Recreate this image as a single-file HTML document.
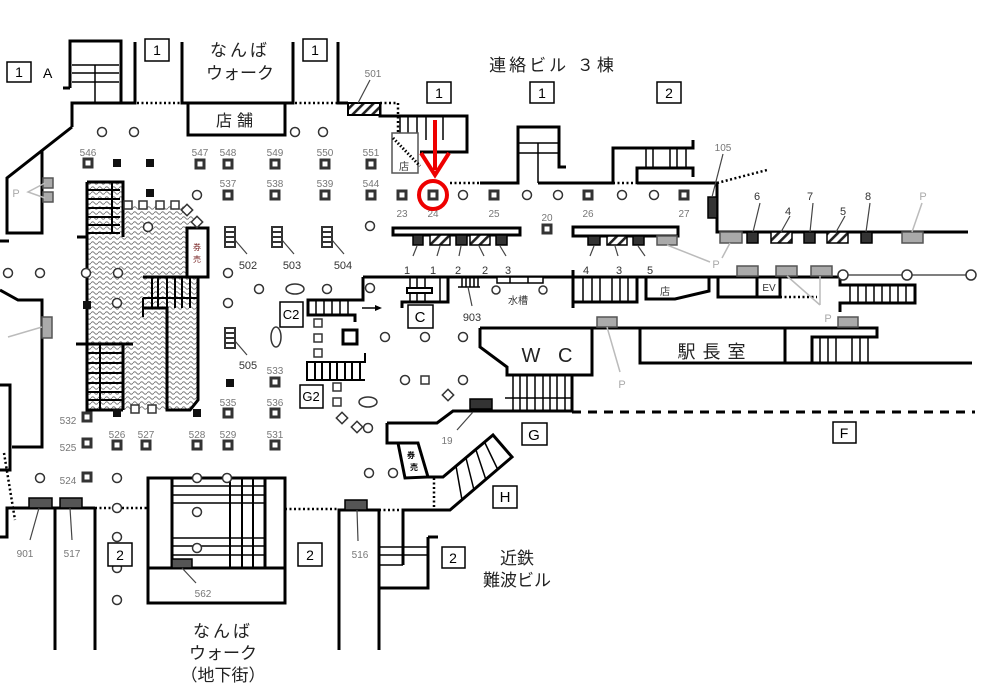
<!DOCTYPE html>
<html><head><meta charset="utf-8"><style>html,body{margin:0;padding:0;background:#fff}svg{display:block}</style></head><body>
<svg width="983" height="694" viewBox="0 0 983 694" xmlns="http://www.w3.org/2000/svg" font-family="'Liberation Sans','Noto Sans CJK JP',sans-serif">
<defs>
<pattern id="zz" width="7" height="5" patternUnits="userSpaceOnUse">
<path d="M0,3 Q1.75,0.5 3.5,3 T7,3" fill="none" stroke="#777" stroke-width="0.9"/>
</pattern>
<pattern id="hatch" width="7" height="7" patternUnits="userSpaceOnUse" patternTransform="rotate(45)">
<rect width="7" height="7" fill="#fff"/><rect width="2.6" height="7" fill="#222"/>
</pattern>
</defs>
<rect width="983" height="694" fill="#fff"/>

<!-- zigzag area -->
<path d="M87,182 L123,182 L123,205 L182,205 L192,214 L197,225 L197,400 L190,410 L87,410Z" fill="url(#zz)"/>

<!-- thick walls -->
<g fill="none" stroke="#000" stroke-width="3">
<path d="M70,88 L70,41 L121,41 L121,103"/>
<path d="M63,88 L70,88"/>
<path d="M72,127 L72,103 L135,103 L135,42"/>
<path d="M72,127 L7,178 L7,233 L42,233 L42,151"/>
<path d="M0,241 L9,241"/>
<path d="M182,42 L182,103 L293,103 L293,42"/>
<rect x="188" y="103" width="97" height="32"/>
<path d="M338,42 L338,103 L348,103"/>
<path d="M380,103 L380,116 L467,116 L467,152 L420,152"/>
<path d="M480,183 L518,183 L518,127 L559,127 L559,167 L566,167"/>
<path d="M538,183 L613,183 L613,148 L693,148 L693,140"/>
<path d="M637,183 L637,168 L693,168 L693,177"/>
<path d="M637,183 L717,183 L717,232 L968,232"/>
<path d="M363,277 L840,277"/>
<path d="M363,277 L363,300 L308,300 L308,315 L355,315 L355,322"/>
<path d="M840,277 L840,285 L915,285 L915,303 L840,303 L840,312"/>
<path d="M718,277 L718,297 L780,297 L780,277 M757,277 L757,297"/>
<path d="M709,277 L709,291 L675,299 L646,299 L646,277"/>
<path d="M573,270 L573,308 M573,302 L637,302 L637,277"/>
<path d="M448,277 L448,302 L402,302 L402,308"/>
<path d="M0,290 L18,300 L42,300 L42,447 L12,447"/>
<path d="M0,385 L10,385 L10,470 L0,470"/>
<path d="M480,328 L877,328 L877,337 L812,337 L812,363"/>
<path d="M480,328 L480,347 L507,367 L507,375 L592,375 L592,328"/>
<path d="M640,328 L640,363 L972,363 M785,328 L785,363"/>
<path d="M572,375 L572,412"/>
<path d="M387,423 L437,423 L453,411 L573,411"/>
<path d="M387,423 L387,443 L398,443"/>
<path d="M427,477 L443,477 L493,435 L512,457 L450,510 L403,510 L403,565"/>
<path d="M339,650 L339,510 L379,510 L379,650"/>
<path d="M428,537 L438,537 M428,537 L428,588 L379,588"/>
<rect x="148" y="478" width="137" height="125"/>
<path d="M148,568 L285,568 M172,478 L172,568 M265,478 L265,568"/>
<path d="M0,537 L7,537 L7,508 L95,508 M55,508 L55,650 M95,508 L95,650"/>
<path d="M87,182 L87,410 L123,410 M87,182 L123,182 L123,237 M77,237 L87,237"/>
<path d="M143,277 L198,277 L198,400 L190,410 L167,410 L167,308 L143,308"/>
<path d="M76,344 L133,344 M123,344 L123,410"/>
<rect x="187" y="228" width="21" height="49" fill="#fff"/>
<polygon points="398,443 418,443 428,477 405,478" fill="#fff"/>
<rect x="393" y="228" width="127" height="7" fill="#fff"/>
<rect x="573" y="227" width="105" height="9" fill="#fff"/>
<rect x="343" y="330" width="14" height="14" fill="#fff"/>
</g>

<!-- thinner stair lines -->
<g fill="none" stroke="#000" stroke-width="1.5">
<path d="M72,65 L119,65 M72,73 L119,73 M72,82 L119,82 M95,65 L95,103"/>
<path d="M400,116 L400,133 M408,116 L408,133 M417,116 L417,133 M426,116 L426,140 M443,116 L443,140"/>
<path d="M518,143 L559,143 M518,153 L559,153 M538,143 L538,183"/>
<path d="M646,148 L646,168 M653,148 L653,168 M670,148 L670,168 M677,148 L677,168 M686,148 L686,168"/>
<path d="M850,285 V303 M858,285 V303 M866,285 V303 M874,285 V303 M882,285 V303 M890,285 V303 M898,285 V303 M906,285 V303"/>
<path d="M583,277 V302 M592,277 V302 M600,277 V302 M612,277 V302 M620,277 V302 M628,277 V302"/>
<path d="M410,277 V302 M417,277 V302 M425,277 V302 M440,277 V302"/>
<path d="M462,277 V287 M466,277 V287 M470,277 V287 M474,277 V287 M478,277 V287 M458,287 H480"/>
<path d="M316,300 V315 M324,300 V315 M332,300 V315 M340,300 V315 M348,300 V315"/>
<path d="M365,353 L365,362 L307,362 L307,380 L365,380 M315,362 V380 M322,362 V380 M330,362 V380 M337,362 V380 M345,362 V380 M352,362 V380 M360,362 V380" stroke-width="2"/>
<path d="M820,337 V363 M828,337 V363 M836,337 V363 M852,337 V363 M860,337 V363 M868,337 V363"/>
<path d="M513,375 V411 M520,375 V411 M527,375 V411 M535,375 V411 M543,375 V411 M550,375 V411 M557,375 V411 M565,375 V411 M505,398 H572"/>
<path d="M456,466 L462,500 M466,458 L474,490 M476,450 L486,480 M485,443 L498,470"/>
<path d="M379,547 H428 M379,555 H428 M379,565 H403"/>
<path d="M172,486 H265 M172,495 H265 M172,503 H265 M172,538 H265 M172,546 H265 M172,555 H265"/>
<path d="M230,478 V568 M242,478 V568 M253,478 V568" stroke-width="2"/>
<path d="M87,190 H120 M87,199 H120 M87,208 H120 M87,217 H120 M87,225 H120 M87,233 H120 M112,182 V233" stroke-width="2"/>
<path d="M143,298 H198 M152,277 V308 M158,277 V308 M167,277 V308 M175,277 V308 M182,277 V308 M190,277 V308 M143,298 V317" stroke-width="2"/>
<path d="M87,353 H122 M87,363 H122 M87,373 H122 M87,383 H122 M87,392 H122 M87,400 H122 M100,344 V410" stroke-width="2"/>
<rect x="407" y="288" width="25" height="5" fill="#fff" stroke-width="2"/>
<rect x="497" y="277" width="46" height="6" fill="#fff"/>
<path d="M510,277 V283 M528,277 V283"/>
<rect x="392" y="133" width="26" height="40" stroke="#555"/>
<path d="M393,138 L420,166" stroke-dasharray="1.5 2" stroke-width="3"/>
</g>

<!-- dotted lines -->
<g fill="none" stroke="#000" stroke-width="2.5" stroke-dasharray="2 2.5">
<path d="M137,103 L182,103"/>
<path d="M295,103 L338,103"/>
<path d="M380,103 L398,103 L398,133"/>
<path d="M450,183 L480,183"/>
<path d="M613,183 L637,183"/>
<path d="M717,183 L767,170"/>
<path d="M780,297 L817,297"/>
<path d="M4,453 L15,520"/>
<path d="M95,508 L148,508"/>
<path d="M285,509 L339,509"/>
<path d="M379,510 L403,510"/>
<path d="M434,478 L434,508"/>
</g>
<path d="M572,412 L975,412" stroke="#000" stroke-width="3" stroke-dasharray="9 7"/>

<!-- hatched / dark / gray boxes -->
<g stroke="#000" stroke-width="1.5">
<rect x="348" y="103" width="32" height="12" fill="url(#hatch)" stroke-width="2"/>
<rect x="413" y="235" width="10" height="10" fill="#333"/>
<rect x="430" y="235" width="20" height="10" fill="url(#hatch)"/>
<rect x="456" y="235" width="11" height="10" fill="#333"/>
<rect x="470" y="235" width="20" height="10" fill="url(#hatch)"/>
<rect x="496" y="235" width="11" height="10" fill="#333"/>
<rect x="588" y="236" width="12" height="9" fill="#333"/>
<rect x="607" y="236" width="20" height="9" fill="url(#hatch)"/>
<rect x="633" y="236" width="11" height="9" fill="#333"/>
<rect x="657" y="236" width="20" height="9" fill="#aaa" stroke="#555"/>
<rect x="720" y="232" width="22" height="11" fill="#aaa" stroke="#555"/>
<rect x="747" y="232" width="11" height="11" fill="#333"/>
<rect x="771" y="232" width="21" height="11" fill="url(#hatch)"/>
<rect x="804" y="232" width="11" height="11" fill="#333"/>
<rect x="827" y="232" width="21" height="11" fill="url(#hatch)"/>
<rect x="861" y="232" width="11" height="11" fill="#333"/>
<rect x="902" y="232" width="21" height="11" fill="#aaa" stroke="#555"/>
<rect x="737" y="266" width="21" height="10" fill="#aaa" stroke="#555"/>
<rect x="776" y="266" width="21" height="10" fill="#aaa" stroke="#555"/>
<rect x="811" y="266" width="21" height="10" fill="#aaa" stroke="#555"/>
<rect x="838" y="317" width="20" height="10" fill="#aaa" stroke="#555"/>
<rect x="597" y="317" width="20" height="10" fill="#aaa" stroke="#555"/>
<rect x="42" y="317" width="10" height="21" fill="#aaa" stroke="#555"/>
<rect x="43" y="178" width="10" height="10" fill="#aaa" stroke="#555"/>
<rect x="43" y="192" width="10" height="10" fill="#aaa" stroke="#555"/>
<rect x="708" y="197" width="9" height="21" fill="#333"/>
<rect x="470" y="399" width="22" height="10" fill="#333"/>
<rect x="345" y="500" width="22" height="10" fill="#555"/>
<rect x="29" y="498" width="23" height="10" fill="#555"/>
<rect x="60" y="498" width="22" height="10" fill="#555"/>
<rect x="172" y="559" width="20" height="9" fill="#555"/>
</g>

<!-- leader lines -->
<g stroke="#444" stroke-width="1.2" fill="none">
<path d="M370,80 L358,103"/>
<path d="M723,154 L712,197"/>
<path d="M760,203 L753,232 M790,216 L781,232 M813,203 L810,232 M845,216 L836,232 M870,203 L866,232"/>
<path d="M417,246 L413,256 M440,246 L437,256 M461,246 L459,256 M479,246 L484,256 M500,246 L506,256"/>
<path d="M594,246 L590,256 M615,246 L618,256 M638,246 L645,256"/>
<path d="M468,287 L472,306"/>
<path d="M473,412 L457,430"/>
<path d="M357,510 L358,541"/>
<path d="M39,508 L30,540 M70,508 L72,540"/>
<path d="M182,568 L196,583"/>
<path d="M235,240 L247,254 M282,240 L294,254 M332,240 L344,254 M235,341 L247,355"/>
</g>
<g stroke="#bbb" stroke-width="1.5" fill="none">
<path d="M922,203 L912,232"/>
<path d="M667,245 L710,262 M722,258 L730,243"/>
<path d="M787,276 L820,305 M820,276 L820,305"/>
<path d="M607,327 L620,372"/>
<path d="M8,337 L42,327"/>
<path d="M45,183 L28,192 L45,198"/>
</g>

<!-- 5xx stair symbols -->
<g fill="#fff" stroke="#333" stroke-width="2">
<rect x="225" y="227" width="10" height="20"/><path d="M225,232 H235 M225,237 H235 M225,242 H235"/>
<rect x="272" y="227" width="10" height="20"/><path d="M272,232 H282 M272,237 H282 M272,242 H282"/>
<rect x="322" y="227" width="10" height="20"/><path d="M322,232 H332 M322,237 H332 M322,242 H332"/>
<rect x="225" y="328" width="10" height="20"/><path d="M225,333 H235 M225,338 H235 M225,343 H235"/>
</g>

<!-- square columns -->
<g fill="#fff" stroke="#333" stroke-width="3">
<rect x="84" y="159" width="8" height="8"/><rect x="196" y="160" width="8" height="8"/><rect x="224" y="160" width="8" height="8"/><rect x="271" y="160" width="8" height="8"/><rect x="321" y="160" width="8" height="8"/><rect x="367" y="160" width="8" height="8"/>
<rect x="224" y="191" width="8" height="8"/><rect x="271" y="191" width="8" height="8"/><rect x="321" y="191" width="8" height="8"/><rect x="367" y="191" width="8" height="8"/><rect x="398" y="191" width="8" height="8"/><rect x="429" y="191" width="8" height="8"/><rect x="490" y="191" width="8" height="8"/><rect x="584" y="191" width="8" height="8"/><rect x="680" y="191" width="8" height="8"/><rect x="543" y="225" width="8" height="8"/>
<rect x="271" y="378" width="8" height="8"/><rect x="224" y="409" width="8" height="8"/><rect x="271" y="409" width="8" height="8"/>
<rect x="83" y="413" width="8" height="8"/><rect x="83" y="439" width="8" height="8"/><rect x="83" y="473" width="8" height="8"/>
<rect x="113" y="441" width="8" height="8"/><rect x="142" y="441" width="8" height="8"/><rect x="193" y="441" width="8" height="8"/><rect x="224" y="441" width="8" height="8"/><rect x="271" y="441" width="8" height="8"/>
</g>

<!-- small squares/diamonds -->
<g fill="#fff" stroke="#333" stroke-width="1.5">
<rect x="124" y="201" width="8" height="8"/><rect x="139" y="201" width="8" height="8"/><rect x="156" y="201" width="8" height="8"/><rect x="171" y="201" width="8" height="8"/>
<rect x="183" y="206" width="8" height="8" transform="rotate(45 187 210)"/><rect x="193" y="218" width="8" height="8" transform="rotate(45 197 222)"/>
<rect x="131" y="405" width="8" height="8"/><rect x="148" y="405" width="8" height="8"/>
<rect x="314" y="319" width="8" height="8"/><rect x="314" y="334" width="8" height="8"/><rect x="314" y="349" width="8" height="8"/>
<rect x="333" y="383" width="8" height="8"/><rect x="333" y="398" width="8" height="8"/>
<rect x="421" y="376" width="8" height="8"/>
<rect x="444" y="391" width="8" height="8" transform="rotate(45 448 395)"/>
<rect x="338" y="414" width="8" height="8" transform="rotate(45 342 418)"/>
<rect x="353" y="423" width="8" height="8" transform="rotate(45 357 427)"/>
</g>

<!-- black squares -->
<g fill="#111">
<rect x="113" y="159" width="8" height="8"/><rect x="146" y="159" width="8" height="8"/><rect x="146" y="189" width="8" height="8"/>
<rect x="83" y="301" width="8" height="8"/><rect x="113" y="409" width="8" height="8"/><rect x="193" y="409" width="8" height="8"/><rect x="226" y="379" width="8" height="8"/>
</g>

<!-- circles -->
<g fill="#fff" stroke="#333" stroke-width="1.5">
<circle cx="102" cy="132" r="4.5"/><circle cx="134" cy="132" r="4.5"/><circle cx="295" cy="132" r="4.5"/><circle cx="323" cy="132" r="4.5"/>
<circle cx="197" cy="195" r="4.5"/><circle cx="148" cy="227" r="4.5"/>
<circle cx="8" cy="273" r="4.5"/><circle cx="40" cy="273" r="4.5"/><circle cx="86" cy="273" r="4.5"/><circle cx="118" cy="273" r="4.5"/><circle cx="117" cy="303" r="4.5"/>
<circle cx="228" cy="273" r="4.5"/><circle cx="259" cy="289" r="4.5"/><circle cx="228" cy="303" r="4.5"/><circle cx="327" cy="289" r="4.5"/>
<circle cx="370" cy="226" r="4.5"/><circle cx="370" cy="288" r="4.5"/>
<circle cx="463" cy="195" r="4.5"/><circle cx="527" cy="195" r="4.5"/><circle cx="558" cy="195" r="4.5"/><circle cx="622" cy="195" r="4.5"/><circle cx="654" cy="195" r="4.5"/>
<circle cx="385" cy="337" r="4.5"/><circle cx="425" cy="337" r="4.5"/><circle cx="463" cy="337" r="4.5"/><circle cx="405" cy="380" r="4.5"/><circle cx="463" cy="380" r="4.5"/>
<circle cx="368" cy="428" r="4.5"/><circle cx="369" cy="473" r="4.5"/><circle cx="393" cy="473" r="4.5"/>
<circle cx="496" cy="290" r="4"/><circle cx="543" cy="290" r="4"/>
<circle cx="40" cy="478" r="4.5"/><circle cx="117" cy="478" r="4.5"/><circle cx="117" cy="508" r="4.5"/><circle cx="117" cy="537" r="4.5"/><circle cx="117" cy="568" r="4.5"/><circle cx="117" cy="600" r="4.5"/>
<circle cx="197" cy="478" r="4.5"/><circle cx="227" cy="478" r="4.5"/><circle cx="197" cy="512" r="4.5"/><circle cx="197" cy="548" r="4.5"/>
<ellipse cx="295" cy="289" rx="9" ry="5"/><ellipse cx="276" cy="337" rx="5" ry="10"/><ellipse cx="368" cy="402" rx="9" ry="5"/>
</g>
<g stroke="#333" stroke-width="1.2" fill="none">
<path d="M843,275 L971,275"/>
</g>
<g fill="#fff" stroke="#333" stroke-width="1.5">
<circle cx="843" cy="275" r="5"/><circle cx="907" cy="275" r="5"/><circle cx="971" cy="275" r="5"/>
</g>

<!-- arrow near C -->
<path d="M362,308 L378,308" stroke="#000" stroke-width="1.5"/>
<path d="M375,305 L382,308 L375,311Z" fill="#000"/>

<!-- labeled boxes -->
<g fill="#fff" stroke="#000" stroke-width="1.5">
<rect x="7" y="62" width="24" height="20"/>
<rect x="145" y="39" width="24" height="22"/>
<rect x="303" y="39" width="24" height="22"/>
<rect x="427" y="82" width="24" height="21"/>
<rect x="530" y="82" width="24" height="21"/>
<rect x="657" y="82" width="24" height="21"/>
<rect x="280" y="302" width="23" height="25"/>
<rect x="408" y="305" width="25" height="23"/>
<rect x="300" y="385" width="23" height="23"/>
<rect x="522" y="423" width="25" height="22"/>
<rect x="493" y="486" width="24" height="22"/>
<rect x="833" y="422" width="23" height="21"/>
<rect x="108" y="543" width="24" height="23"/>
<rect x="298" y="543" width="24" height="23"/>
<rect x="442" y="547" width="23" height="21"/>
</g>
<g font-size="14" text-anchor="middle" fill="#000">
<text x="19" y="77">1</text>
<text x="157" y="55">1</text>
<text x="315" y="55">1</text>
<text x="439" y="98">1</text>
<text x="542" y="98">1</text>
<text x="669" y="98">2</text>
<text x="291" y="319" font-size="13">C2</text>
<text x="420" y="322" font-size="15">C</text>
<text x="311" y="401" font-size="13">G2</text>
<text x="534" y="440" font-size="15">G</text>
<text x="505" y="502" font-size="15">H</text>
<text x="844" y="438">F</text>
<text x="120" y="560">2</text>
<text x="310" y="560">2</text>
<text x="453" y="563">2</text>
</g>
<text x="43" y="78" font-size="14">A</text>

<!-- number labels -->
<g font-size="10" fill="#777" text-anchor="middle">
<text x="88" y="156">546</text><text x="200" y="156">547</text><text x="228" y="156">548</text><text x="275" y="156">549</text><text x="325" y="156">550</text><text x="371" y="156">551</text>
<text x="228" y="187">537</text><text x="275" y="187">538</text><text x="325" y="187">539</text><text x="371" y="187">544</text>
<text x="402" y="217">23</text><text x="433" y="217">24</text><text x="494" y="217">25</text><text x="588" y="217">26</text><text x="684" y="217">27</text><text x="547" y="221">20</text>
<text x="275" y="374">533</text><text x="228" y="406">535</text><text x="275" y="406">536</text>
<text x="117" y="438">526</text><text x="146" y="438">527</text><text x="197" y="438">528</text><text x="228" y="438">529</text><text x="275" y="438">531</text>
<text x="68" y="424">532</text><text x="68" y="451">525</text><text x="68" y="484">524</text>
<text x="373" y="77">501</text><text x="723" y="151">105</text>
<text x="447" y="444">19</text><text x="360" y="558">516</text><text x="25" y="557">901</text><text x="72" y="557">517</text><text x="203" y="597">562</text>
</g>
<g font-size="11" fill="#333" text-anchor="middle">
<text x="248" y="269">502</text><text x="292" y="269">503</text><text x="343" y="269">504</text><text x="248" y="369">505</text>
<text x="472" y="321">903</text>
<text x="757" y="200">6</text><text x="788" y="215">4</text><text x="810" y="200">7</text><text x="843" y="215">5</text><text x="868" y="200">8</text>
<text x="407" y="274">1</text><text x="433" y="274">1</text><text x="458" y="274">2</text><text x="485" y="274">2</text><text x="508" y="274">3</text>
<text x="586" y="274">4</text><text x="619" y="274">3</text><text x="650" y="274">5</text>
<text x="769" y="291" font-size="10">EV</text>
<text x="518" y="304" font-size="10">水槽</text>
<text x="665" y="295" font-size="10">店</text>
<text x="404" y="170" font-size="10">店</text>
</g>
<g font-size="11" fill="#aaa" text-anchor="middle">
<text x="923" y="200">P</text><text x="716" y="268">P</text><text x="828" y="322">P</text><text x="622" y="388">P</text><text x="16" y="197">P</text>
</g>

<!-- ticket box texts -->
<text x="197" y="250" font-size="8" fill="#722" text-anchor="middle">券</text>
<text x="197" y="262" font-size="8" fill="#722" text-anchor="middle">売</text>
<text x="411" y="458" font-size="8" font-weight="bold" fill="#000" text-anchor="middle">券</text>
<text x="414" y="470" font-size="8" font-weight="bold" fill="#000" text-anchor="middle">売</text>

<!-- Japanese titles -->
<g fill="#222" text-anchor="middle" font-size="17">
<text x="240" y="56" letter-spacing="3">なんば</text>
<text x="240" y="79">ウォーク</text>
<text x="237" y="126" font-size="16" letter-spacing="5">店舗</text>
<text x="553" y="71" letter-spacing="3">連絡ビル ３棟</text>
<text x="550" y="362" font-size="20" letter-spacing="6">W C</text>
<text x="715" y="358" font-size="18" letter-spacing="7">駅長室</text>
<text x="517" y="564">近鉄</text>
<text x="517" y="586">難波ビル</text>
<text x="223" y="637" letter-spacing="3">なんば</text>
<text x="223" y="659">ウォーク</text>
<text x="223" y="681">（地下街）</text>
</g>

<!-- red marker -->
<path d="M435,120 L435,170" stroke="#e00" stroke-width="4"/>
<path d="M421,153 L435,175 L449,153" stroke="#e00" stroke-width="4" fill="none"/>
<circle cx="433" cy="195" r="14" stroke="#e00" stroke-width="4" fill="none"/>
</svg>
</body></html>
